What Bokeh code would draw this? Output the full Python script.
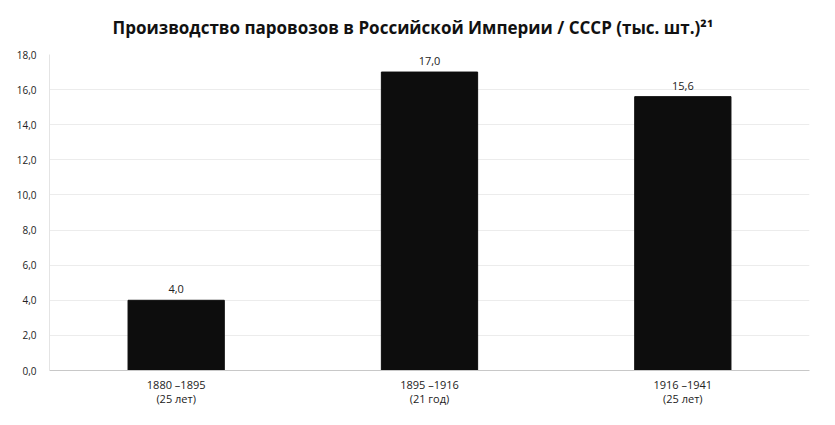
from bokeh.plotting import figure
from bokeh.models import ColumnDataSource, Range1d, CustomJSTickFormatter, FixedTicker, Title, LabelSet
from bokeh.core.properties import value
from bokeh.embed import file_html
from bokeh.resources import INLINE

# data
periods = ["1880 –1895\n(25 лет)", "1895 –1916\n(21 год)", "1916 –1941\n(25 лет)"]
values = [4.0, 17.0, 15.6]
y_ticks = [0, 2, 4, 6, 8, 10, 12, 14, 16, 18]
title_text = "Производство паровозов в Российской Империи / СССР (тыс. шт.)²¹"

FONT = "Open Sans"
TXT = "#222222"

src = ColumnDataSource(dict(
    x=periods,
    top=values,
    lbl=[f"{v:.1f}".replace(".", ",") for v in values],
))

p = figure(
    x_range=periods, y_range=Range1d(0, 18),
    width=835, height=425,
    output_backend="svg", toolbar_location=None,
    min_border_left=49, min_border_right=26, min_border_top=54, min_border_bottom=55,
)
p.title = Title(text=title_text, align="left", offset=63, text_font=FONT, text_font_size="17px",
                text_font_style="bold", text_color="#111111", standoff=28, vertical_align="top")
p.outline_line_color = None
p.background_fill_color = "white"
p.border_fill_color = "white"

p.vbar(x="x", top="top", width=0.38, source=src, fill_color="#0d0d0d", line_color="#0d0d0d")

labels = LabelSet(x="x", y="top", text="lbl", source=src, text_align="center", text_baseline="bottom",
                  y_offset=7, text_font=value(FONT), text_font_size=value("11px"), text_color=TXT)
p.add_layout(labels)

p.yaxis.ticker = FixedTicker(ticks=y_ticks)
p.yaxis.formatter = CustomJSTickFormatter(code="return tick.toFixed(1).replace('.', ',');")
p.yaxis.major_tick_line_color = None
p.yaxis.minor_tick_line_color = None
p.yaxis.axis_line_color = "#e4e4e4"
p.yaxis.major_label_standoff = 7
p.yaxis.major_label_text_font = FONT
p.yaxis.major_label_text_font_size = "10px"
p.yaxis.major_label_text_color = TXT

p.xaxis.major_tick_line_color = None
p.xaxis.axis_line_color = "#c8c8c8"
p.xaxis.major_label_standoff = 0
p.xaxis.major_label_text_font = FONT
p.xaxis.major_label_text_font_size = "11px"
p.xaxis.major_label_text_line_height = 0.95
p.xaxis.major_label_text_color = TXT

p.xgrid.grid_line_color = None
p.ygrid.grid_line_color = "#ececec"
p.ygrid.ticker = FixedTicker(ticks=y_ticks)

open("out.html", "w").write(file_html(p, INLINE))
